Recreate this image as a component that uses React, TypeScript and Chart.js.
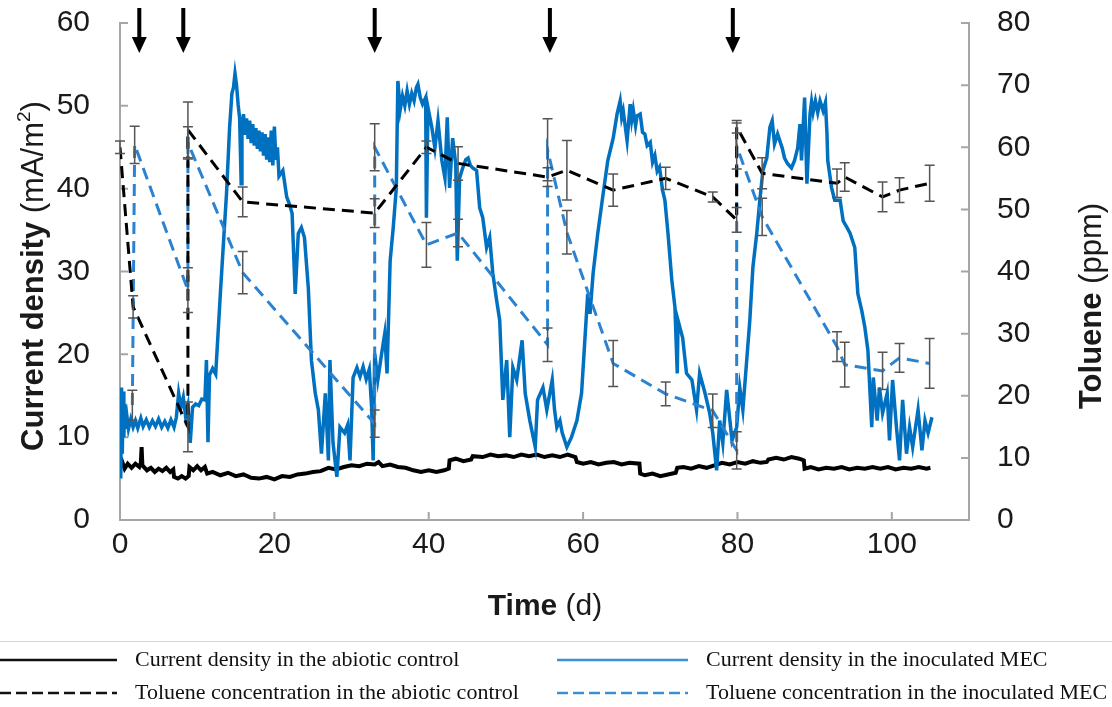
import React, { useEffect, useRef } from "react";
import { Chart, registerables } from "chart.js";

Chart.register(...registerables);

// ---------- DATA ----------
const xTickValues = [0, 20, 40, 60, 80, 100];
const leftTickValues = [0, 10, 20, 30, 40, 50, 60];
const rightTickValues = [0, 10, 20, 30, 40, 50, 60, 70, 80];

// Toluene spike days (arrows)
const arrowDays = [2.5, 8.2, 33.0, 55.7, 79.4];

// Current density, abiotic control [day, mA/m2]
const abioticCurrent: [number, number][] = [
  [0, 6.4], [0.3, 7.0], [0.6, 6.2], [1, 6.8], [1.5, 6.3], [2, 6.8], [2.5, 6.4], [2.7, 6.9], [2.8, 8.8], [2.9, 6.6],
  [3.5, 6.0], [4, 6.3], [4.5, 5.8], [5, 6.2], [5.5, 5.9], [6, 6.3], [6.5, 5.8], [6.9, 6.1], [7.0, 5.2], [7.5, 5.0],
  [8, 5.3], [8.5, 5.0], [8.9, 5.3], [9, 6.4], [9.5, 6.0], [10, 6.5], [10.5, 6.0], [11, 6.4], [11.3, 5.6], [12, 5.8],
  [13, 5.4], [14, 5.7], [15, 5.3], [16, 5.5], [17, 5.1], [18, 5.0], [19, 5.2], [20, 4.9], [21, 5.3], [22, 5.2],
  [23, 5.5], [24, 5.6], [25, 5.8], [26, 5.9], [27, 6.3], [28, 6.1], [29, 6.4], [30, 6.6], [31, 6.5], [32, 6.8],
  [33, 6.7], [33.5, 7.0], [34, 6.5], [35, 6.7], [36, 6.4], [37, 6.3], [38, 6.0], [39, 5.8], [40, 6.0], [41, 5.8],
  [42, 6.0], [42.6, 6.2], [42.7, 7.2], [43.5, 7.4], [44.5, 7.1], [45.5, 7.3], [45.7, 7.7], [47, 7.6], [48, 7.9], [49, 7.7],
  [50, 7.8], [51, 7.6], [52, 7.9], [53, 7.7], [54, 7.9], [55, 7.6], [56, 7.8], [57, 7.6], [58, 7.9], [59, 7.6],
  [59.2, 7.0], [60, 6.8], [61, 7.0], [62, 6.7], [63, 6.9], [64, 7.0], [65, 6.7], [66, 6.9], [67.3, 6.8], [67.4, 5.6],
  [68, 5.4], [69, 5.6], [70, 5.3], [71, 5.5], [72, 5.7], [72.2, 6.3], [73, 6.4], [74, 6.2], [75, 6.5], [76, 6.3],
  [77, 6.6], [78, 6.9], [79, 6.7], [80, 7.0], [81, 6.8], [82, 7.1], [83, 6.9], [83.8, 7.0], [84, 7.3], [85, 7.5],
  [86, 7.3], [87, 7.6], [88, 7.4], [88.6, 7.2], [88.7, 6.2], [89.5, 6.4], [90.5, 6.1], [91.5, 6.3], [92.5, 6.2], [93.5, 6.4],
  [94.5, 6.1], [95.5, 6.3], [96.5, 6.2], [97.5, 6.4], [98.5, 6.2], [99.5, 6.4], [100.5, 6.1], [101.5, 6.3], [102.5, 6.2],
  [103.5, 6.4], [104.5, 6.2], [105, 6.3],
];

// Current density, inoculated MEC [day, mA/m2]
const inoculatedCurrent: [number, number][] = [
  [0, 13], [0.1, 5], [0.2, 16], [0.3, 8], [0.4, 15.5], [0.5, 10], [0.6, 14], [0.7, 11], [0.9, 12.5], [1.1, 11],
  [1.4, 12.2], [1.7, 11.2], [2, 12], [2.3, 11.1], [2.7, 12.3], [3, 11.3], [3.4, 12.1], [3.8, 11.2], [4.2, 12], [4.6, 11.3],
  [5, 12.2], [5.4, 11.2], [5.8, 11.9], [6.2, 11.1], [6.6, 12.1], [7, 11.2], [7.3, 12.4], [7.6, 15.3], [7.9, 13.6], [8.2, 14.8],
  [8.5, 12.5], [8.8, 13.8], [9.1, 9.3], [9.4, 13.6], [9.8, 14], [10.2, 13.8], [10.6, 14.6], [11, 14.5], [11.2, 19.3], [11.4, 9.4],
  [11.6, 17.5], [12, 18.3], [12.4, 17.6], [13, 27.3], [13.4, 33.4], [13.8, 39.4], [14.2, 47.4], [14.5, 51.5], [14.7, 52.2], [14.9, 53.9],
  [15.1, 52.5], [15.3, 50.2], [15.5, 48.5], [15.7, 40.6], [15.8, 47.5], [16.0, 49], [16.2, 46.5], [16.4, 48.5], [16.6, 46], [16.8, 48.2],
  [17.0, 45.5], [17.2, 47.8], [17.4, 45.2], [17.6, 47.3], [17.8, 44.8], [18.0, 47], [18.2, 44.5], [18.4, 46.8], [18.6, 44], [18.8, 46.6],
  [19.0, 43.5], [19.2, 46.2], [19.4, 43.2], [19.6, 47], [19.8, 42.8], [20.0, 47.5], [20.2, 43.5], [20.4, 45], [20.6, 41.5], [21.1, 42.2],
  [21.6, 39], [22, 38], [22.3, 37], [22.7, 27.3], [23.1, 34.6], [23.5, 35.3], [23.9, 34.1], [24.4, 28], [24.8, 19.3], [25.3, 15.3],
  [25.7, 13.3], [26.1, 8], [26.6, 15.3], [27, 7.2], [27.2, 19.3], [27.6, 9.3], [28.1, 5.2], [28.5, 11.2], [29.1, 10.5], [29.5, 11.5],
  [29.8, 7.2], [30.2, 17.2], [30.7, 18.4], [31.1, 17.3], [31.5, 18.5], [31.9, 17], [32.3, 18.2], [32.6, 13.6], [32.8, 7.2], [33, 20.1],
  [33.4, 16.9], [33.9, 20.1], [34.3, 22.5], [34.6, 17.7], [35, 31.3], [35.4, 35.3], [35.8, 40.1], [36, 53], [36.3, 49.5], [36.6, 51.2],
  [36.9, 50], [37.2, 51.8], [37.5, 50.2], [37.8, 51.5], [38.1, 50.6], [38.4, 52.2], [38.6, 52.6], [38.9, 51], [39.2, 50.2], [39.6, 51],
  [39.7, 36.5], [39.9, 49.8], [40.4, 47.4], [40.8, 44.9], [41.2, 48.2], [41.7, 43.4], [42.1, 41.3], [42.4, 48.6], [42.7, 40.1], [43.1, 46.1],
  [43.5, 43], [43.7, 31.3], [44, 41.3], [44.4, 42.5], [44.8, 43.5], [45.1, 43.7], [45.4, 42.8], [45.7, 42.5], [46.2, 42.2], [46.6, 37.7],
  [47, 36.5], [47.5, 32.9], [47.9, 34.1], [48.3, 29.8], [48.8, 26.5], [49.2, 24.1], [49.6, 14.5], [50.1, 19.3], [50.5, 10], [50.9, 18.4],
  [51.4, 16.9], [52.1, 21.7], [52.5, 15.3], [53.1, 12], [53.8, 8.8], [54.1, 14.5], [54.8, 16], [55.3, 13.3], [56, 16.9], [56.3, 13.3],
  [56.6, 11.2], [57, 12], [57.3, 10.5], [57.9, 8.8], [58.5, 10], [59.2, 12], [59.8, 15.3], [60.2, 21.3], [60.6, 27.3], [60.9, 24.9],
  [61.3, 29.8], [61.9, 34.6], [62.6, 39.4], [63.2, 43.4], [63.9, 46.1], [64.4, 49], [64.8, 50.6], [65.0, 48.6], [65.2, 49.4], [65.7, 45.8],
  [66.1, 50.2], [66.3, 48.3], [66.5, 49.5], [66.8, 47.6], [67, 48.8], [67.4, 49], [67.7, 46.8], [68, 46.6], [68.3, 45.2], [68.7, 45.6],
  [69.0, 43.2], [69.3, 44], [69.6, 42.1], [69.9, 42.6], [70.3, 39.8], [70.6, 38.6], [71, 34.6], [71.5, 28.9], [71.9, 25.7], [72.2, 17.7],
  [72.3, 24.1], [72.9, 22], [73.4, 17.7], [74.1, 16.9], [74.7, 13.3], [75.1, 17.7], [75.8, 15.3], [76.4, 12.9], [76.8, 10.5], [77.3, 6],
  [77.7, 12], [78.1, 9.3], [78.6, 15.7], [79.3, 9.6], [79.9, 11.2], [80.3, 16], [80.7, 13.3], [81.2, 19.3], [81.6, 24.1], [82, 30.5],
  [82.5, 34.6], [82.9, 38.6], [83.3, 42.2], [83.8, 43.7], [84.2, 47.4], [84.5, 48.2], [84.8, 45.4], [85.2, 46.6], [85.8, 44.9], [86.1, 43.7],
  [86.5, 43], [87, 42.5], [87.4, 43.4], [87.8, 44.9], [88.1, 47.8], [88.3, 43.4], [88.7, 51], [89, 40.6], [89.4, 49], [89.6, 50.5],
  [89.8, 49.2], [90.1, 50.6], [90.4, 49.2], [90.7, 50.6], [91.1, 49.4], [91.4, 50.4], [91.6, 46.6], [91.7, 43.4], [92.2, 40.1], [92.6, 38.6],
  [93.3, 38.6], [93.7, 36.1], [94.2, 35.3], [94.6, 34.6], [95.2, 32.9], [95.6, 27.3], [96.1, 25.3], [96.5, 23.3], [96.9, 20.5], [97.4, 11.2],
  [97.6, 17.2], [98.1, 12], [98.4, 16], [98.8, 12.9], [99.4, 15.3], [99.7, 9.6], [100.1, 16.9], [100.6, 11.2], [101, 7.2], [101.4, 14.5],
  [101.9, 8], [102.3, 11.2], [102.7, 8.8], [103.4, 13.3], [103.9, 8.4], [104.3, 12], [104.7, 10.5], [105.2, 12.4],
];

// Toluene concentration, abiotic control [day, ppm, error]
const abioticToluene: [number, number, number][] = [
  [0, 60, 1], [1.7, 34.3, 1.8], [8.8, 15, 4], [8.8, 62.8, 4.5], [15.9, 51.2, 2.4], [33, 49.4, 2.3],
  [39.7, 60, 1], [43.8, 57.4, 2.7], [55.4, 55.2, 1.5], [57.9, 56.3, 4.8], [63.9, 53.1, 2.6], [70.7, 55, 1.8],
  [76.8, 52, 0.8], [79.9, 48.3, 2], [79.9, 63.3, 1], [83.2, 55.8, 2.5], [92.9, 54.2, 2.3], [93.9, 55.2, 2.3],
  [98.8, 52, 2.4], [101, 53.1, 2], [104.9, 54.2, 2.9],
];

// Toluene concentration, inoculated MEC [day, ppm, error]
const inoculatedToluene: [number, number, number][] = [
  [1.6, 18.5, 2.4], [1.9, 60.4, 3], [8.8, 37, 3.6], [8.8, 60.7, 2.6], [15.9, 39.8, 3.4], [33, 15.5, 2.2],
  [33, 60, 3.8], [39.7, 44.3, 3.6], [43.8, 46.2, 2.2], [55.4, 28.2, 2.7], [55.4, 59.6, 5], [57.9, 46.3, 3.5],
  [63.9, 25.2, 3.7], [70.7, 20.3, 1.9], [76.8, 17.6, 2.7], [79.9, 11.2, 3], [79.9, 60.2, 3.7], [83.2, 48.8, 3],
  [92.9, 27.9, 2.4], [93.9, 25, 3.6], [98.8, 24, 3], [101, 26.1, 2.3], [104.9, 25.2, 4],
];

const legendLabels = [
  "Current density in the abiotic control",
  "Current density in the inoculated MEC",
  "Toluene concentration in the abiotic control",
  "Toluene concentration in the inoculated MEC",
];

// ---------- STYLE ----------
const SANS = "'Liberation Sans', Arial, sans-serif";
const SERIF = "'Liberation Serif', 'Times New Roman', serif";
const AXIS_COLOR = "#a6a6a6";
const TEXT_COLOR = "#1a1a1a";
const BLUE = "#0070c0";
const BLUE_DASH = "#2a82d0";
const BLACK = "#000000";
const ERR_COLOR = "#555555";
const TICK_LEN = 8;

type Part = { t: string; bold?: boolean; sup?: boolean };

function drawParts(ctx: CanvasRenderingContext2D, parts: Part[], cx: number, cy: number, rot: number, size: number) {
  ctx.save();
  ctx.translate(cx, cy);
  ctx.rotate(rot);
  const fontOf = (p: Part) => `${p.bold ? "bold " : ""}${p.sup ? Math.round(size * 0.62) : size}px ${SANS}`;
  let total = 0;
  const widths = parts.map((p) => {
    ctx.font = fontOf(p);
    const w = ctx.measureText(p.t).width;
    total += w;
    return w;
  });
  let x = -total / 2;
  ctx.fillStyle = TEXT_COLOR;
  ctx.textBaseline = "alphabetic";
  ctx.textAlign = "left";
  const base = size * 0.36;
  parts.forEach((p, i) => {
    ctx.font = fontOf(p);
    ctx.fillText(p.t, x, p.sup ? base - size * 0.42 : base);
    x += widths[i];
  });
  ctx.restore();
}

const customPlugin = {
  id: "customDecor",
  beforeDatasetsDraw(chart: any) {
    const { ctx, chartArea: a, scales } = chart;
    ctx.save();
    ctx.strokeStyle = AXIS_COLOR;
    ctx.lineWidth = 2;
    ctx.beginPath();
    ctx.moveTo(a.left, a.top);
    ctx.lineTo(a.left, a.bottom);
    ctx.lineTo(a.right, a.bottom);
    ctx.lineTo(a.right, a.top);
    ctx.stroke();
    ctx.beginPath();
    leftTickValues.forEach((v) => {
      const y = scales.y.getPixelForValue(v);
      ctx.moveTo(a.left - 1, y);
      ctx.lineTo(a.left + TICK_LEN, y);
    });
    rightTickValues.forEach((v) => {
      const y = scales.y1.getPixelForValue(v);
      ctx.moveTo(a.right + 1, y);
      ctx.lineTo(a.right - TICK_LEN, y);
    });
    xTickValues.forEach((v) => {
      const x = scales.x.getPixelForValue(v);
      ctx.moveTo(x, a.bottom + 1);
      ctx.lineTo(x, a.bottom - TICK_LEN);
    });
    ctx.stroke();
    ctx.restore();
  },
  afterDatasetsDraw(chart: any) {
    const { ctx, scales } = chart;
    ctx.save();
    ctx.strokeStyle = ERR_COLOR;
    ctx.lineWidth = 1.5;
    ctx.setLineDash([]);
    const drawErr = (arr: [number, number, number][]) => {
      arr.forEach(([d, v, e]) => {
        const x = scales.x.getPixelForValue(d);
        const y1 = scales.y1.getPixelForValue(v - e);
        const y2 = scales.y1.getPixelForValue(v + e);
        ctx.beginPath();
        ctx.moveTo(x, y1);
        ctx.lineTo(x, y2);
        ctx.moveTo(x - 5, y1);
        ctx.lineTo(x + 5, y1);
        ctx.moveTo(x - 5, y2);
        ctx.lineTo(x + 5, y2);
        ctx.stroke();
      });
    };
    drawErr(inoculatedToluene);
    drawErr(abioticToluene);
    ctx.restore();
  },
  afterDraw(chart: any) {
    const { ctx, scales } = chart;
    // arrows
    ctx.save();
    ctx.fillStyle = BLACK;
    arrowDays.forEach((d) => {
      const x = scales.x.getPixelForValue(d);
      ctx.fillRect(x - 2, 8, 4, 32);
      ctx.beginPath();
      ctx.moveTo(x - 7.5, 37);
      ctx.lineTo(x + 7.5, 37);
      ctx.lineTo(x, 53);
      ctx.closePath();
      ctx.fill();
    });
    ctx.restore();

    // axis titles
    drawParts(ctx, [{ t: "Current density", bold: true }, { t: " (mA/m" }, { t: "2", sup: true }, { t: ")" }], 32, 276, -Math.PI / 2, 31);
    drawParts(ctx, [{ t: "Toluene", bold: true }, { t: " (ppm)" }], 1090, 306, -Math.PI / 2, 31);
    drawParts(ctx, [{ t: "Time", bold: true }, { t: " (d)" }], 545, 604, 0, 30);

    // legend
    ctx.save();
    ctx.strokeStyle = "#d4d4d4";
    ctx.lineWidth = 1;
    ctx.beginPath();
    ctx.moveTo(0, 641.5);
    ctx.lineTo(1112, 641.5);
    ctx.stroke();
    const rows = [660, 693];
    const items = [
      { x0: 0, x1: 117, tx: 135, y: rows[0], color: "#111111", dash: [] as number[], label: legendLabels[0] },
      { x0: 557, x1: 688, tx: 706, y: rows[0], color: "#3a8fd8", dash: [] as number[], label: legendLabels[1] },
      { x0: 0, x1: 117, tx: 135, y: rows[1], color: "#111111", dash: [11, 5], label: legendLabels[2] },
      { x0: 557, x1: 688, tx: 706, y: rows[1], color: "#3a8fd8", dash: [11, 5], label: legendLabels[3] },
    ];
    items.forEach((it) => {
      ctx.strokeStyle = it.color;
      ctx.lineWidth = 2.5;
      ctx.setLineDash(it.dash);
      ctx.beginPath();
      ctx.moveTo(it.x0, it.y);
      ctx.lineTo(it.x1, it.y);
      ctx.stroke();
      ctx.setLineDash([]);
      ctx.fillStyle = "#111111";
      ctx.font = `22px ${SERIF}`;
      ctx.textBaseline = "middle";
      ctx.textAlign = "left";
      ctx.fillText(it.label, it.tx, it.y);
    });
    ctx.restore();
  },
};

const zeroPad = (s: any) => {
  s.paddingTop = 0;
  s.paddingBottom = 0;
  s.paddingLeft = 0;
  s.paddingRight = 0;
};

export default function App() {
  const canvasRef = useRef<HTMLCanvasElement | null>(null);

  useEffect(() => {
    document.body.style.margin = "0";
    const canvas = canvasRef.current;
    if (!canvas) return;
    const tickFont = { family: SANS, size: 30 };
    const chart = new Chart(canvas, {
      type: "line",
      data: {
        datasets: [
          {
            label: legendLabels[2],
            data: abioticToluene.map(([x, y]) => ({ x, y })),
            yAxisID: "y1",
            borderColor: BLACK,
            borderWidth: 3,
            borderDash: [12, 7],
            pointRadius: 0,
            tension: 0,
          },
          {
            label: legendLabels[3],
            data: inoculatedToluene.map(([x, y]) => ({ x, y })),
            yAxisID: "y1",
            borderColor: BLUE_DASH,
            borderWidth: 3,
            borderDash: [12, 7],
            pointRadius: 0,
            tension: 0,
          },
          {
            label: legendLabels[1],
            data: inoculatedCurrent.map(([x, y]) => ({ x, y })),
            yAxisID: "y",
            borderColor: BLUE,
            borderWidth: 3.5,
            pointRadius: 0,
            tension: 0,
          },
          {
            label: legendLabels[0],
            data: abioticCurrent.map(([x, y]) => ({ x, y })),
            yAxisID: "y",
            borderColor: BLACK,
            borderWidth: 4,
            pointRadius: 0,
            tension: 0,
          },
        ],
      },
      options: {
        responsive: false,
        animation: false,
        devicePixelRatio: 1,
        layout: { padding: { top: 23, left: 0, right: 0, bottom: 0 } },
        plugins: { legend: { display: false }, tooltip: { enabled: false } },
        scales: {
          x: {
            type: "linear",
            position: "bottom",
            min: 0,
            max: 110,
            grid: { display: false, drawTicks: false },
            border: { display: false },
            ticks: {
              stepSize: 20,
              includeBounds: false,
              padding: 7,
              color: TEXT_COLOR,
              font: tickFont,
              maxRotation: 0,
              callback: (v: any) => (xTickValues.includes(Number(v)) ? String(v) : ""),
            },
            afterFit: (s: any) => {
              s.height = 187;
              zeroPad(s);
            },
          },
          y: {
            type: "linear",
            position: "left",
            min: 0,
            max: 60,
            grid: { display: false, drawTicks: false },
            border: { display: false },
            ticks: { stepSize: 10, padding: 30, color: TEXT_COLOR, font: tickFont },
            afterFit: (s: any) => {
              s.width = 120;
              zeroPad(s);
            },
          },
          y1: {
            type: "linear",
            position: "right",
            min: 0,
            max: 80,
            grid: { display: false, drawTicks: false },
            border: { display: false },
            ticks: { stepSize: 10, padding: 28, color: TEXT_COLOR, font: tickFont },
            afterFit: (s: any) => {
              s.width = 143;
              zeroPad(s);
            },
          },
        },
      },
      plugins: [customPlugin],
    } as any);
    return () => chart.destroy();
  }, []);

  return (
    <div style={{ width: 1112, height: 707, background: "#fff" }}>
      <canvas ref={canvasRef} width={1112} height={707} style={{ display: "block", width: 1112, height: 707 }} />
    </div>
  );
}
